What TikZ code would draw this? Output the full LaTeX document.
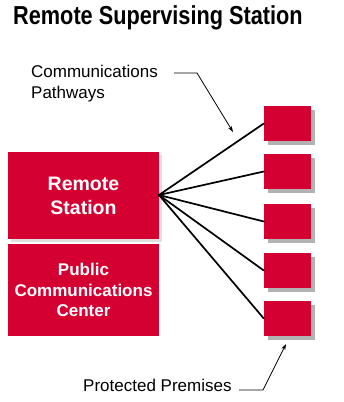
\documentclass[tikz,border=0pt]{standalone}
\usepackage{fontspec}
\setmainfont{Liberation Sans}
\usetikzlibrary{arrows.meta,shadows}
\definecolor{boxred}{RGB}{213,0,50}
\definecolor{shadowgray}{RGB}{178,178,178}
\begin{document}
\begin{tikzpicture}[x=1pt,y=-1pt,
  redbox/.style={fill=boxred, draw=none, inner sep=0pt, text=white, align=center,
    font=\fontsize{19.5}{24}\selectfont\bfseries},
  shadowed/.style={drop shadow={shadow xshift=4pt, shadow yshift=-4pt, fill=shadowgray, opacity=1}},
  lightshadow/.style={drop shadow={shadow xshift=3pt, shadow yshift=-3pt, fill=black!12, opacity=1}},
  premise/.style={redbox, shadowed, minimum width=47pt, minimum height=35pt},
  pathway/.style={draw=black, line width=1.7pt},
  leader/.style={draw=black, line width=0.8pt},
  leadertip/.style={leader, -{Stealth[length=6pt,width=4pt]}},
  label/.style={inner sep=0pt, font=\fontsize{17}{21}\selectfont, align=left}
]
\useasboundingbox (0,0) rectangle (344,402);
\fill[white] (0,0) rectangle (344,402);

% title
\node[anchor=base west, inner sep=0pt, font=\fontsize{26}{30}\selectfont\bfseries] (title) at (13,24)
  {\scalebox{0.835}[1]{Remote Supervising Station}};

% left boxes
\node[redbox, lightshadow, minimum width=151pt, minimum height=87pt] (rs) at (83.5,195.5) {Remote\\Station};
\node[redbox, minimum width=151pt, minimum height=92pt,
  font=\fontsize{17}{20.5}\selectfont\bfseries] (pcc) at (83.5,290) {Public\\Communications\\Center};

% protected premises boxes
\node[premise] (p1) at (287.5,123.5) {};
\node[premise] (p2) at (287.5,171.5) {};
\node[premise] (p3) at (287.5,221.5) {};
\node[premise] (p4) at (287.5,270.5) {};
\node[premise] (p5) at (287.5,318.5) {};

% pathways
\coordinate (hub) at (159,195);
\foreach \p in {p1,p2,p3,p4,p5}
  \draw[pathway, line cap=round] (hub) -- (\p.west);

% labels
\node[label, anchor=base west] (cp) at (31,98) {Communications\\Pathways};
\node[label, anchor=base west] (pp) at (83,391) {Protected Premises};

% leader lines
\coordinate (cpa) at (174,73);
\coordinate (cpb) at (197,73);
\coordinate (cpt) at (233,132);
\draw[leadertip] (cpa) -- (cpb) -- (cpt);
\coordinate (ppa) at (239,390);
\coordinate (ppb) at (263,390);
\coordinate (ppt) at (286,344);
\draw[leadertip] (ppa) -- (ppb) -- (ppt);
\end{tikzpicture}
\end{document}
